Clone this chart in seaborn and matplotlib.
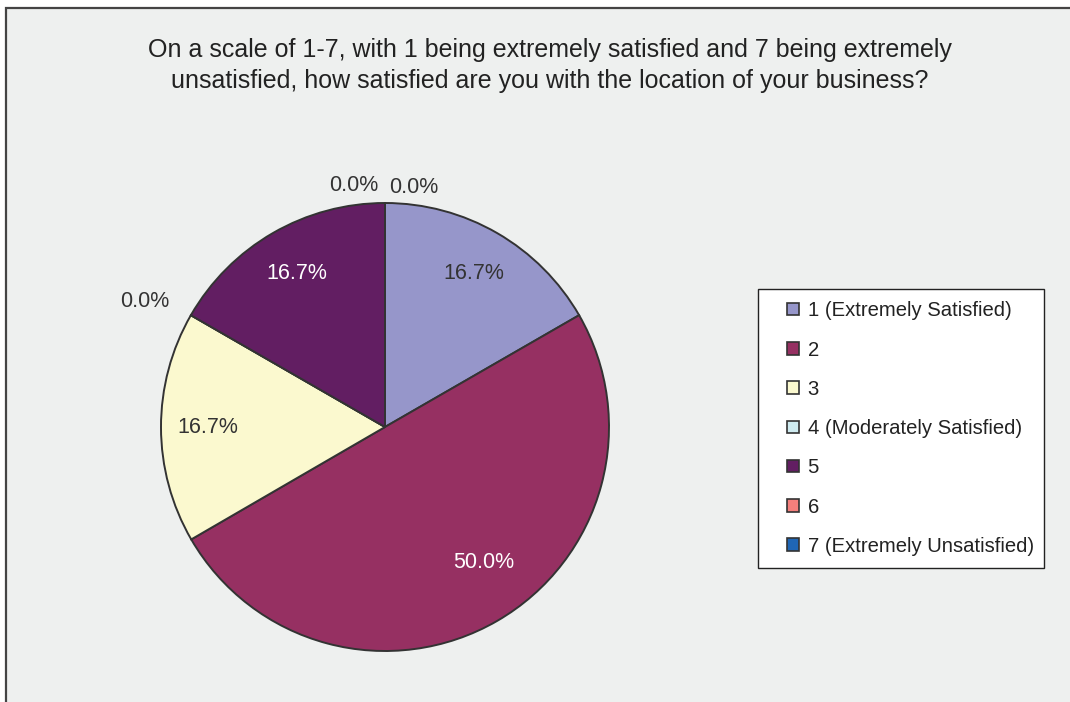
import matplotlib
matplotlib.use("Agg")
import matplotlib.pyplot as plt
import matplotlib.patches as mpatches
import numpy as np
import seaborn as sns

# Survey responses (share of respondents, %)
categories = ["1 (Extremely Satisfied)", "2", "3", "4 (Moderately Satisfied)",
              "5", "6", "7 (Extremely Unsatisfied)"]
shares = [16.7, 50.0, 16.7, 0.0, 16.7, 0.0, 0.0]
slice_colors = ["#9696CA", "#963062", "#FBF9CF", "#CFEBF0", "#621E62", "#F47F7C", "#1F66B5"]
label_colors = ["#333333", "white", "#333333", "#333333", "white", "#333333", "#333333"]

title = ("On a scale of 1-7, with 1 being extremely satisfied and 7 being extremely\n"
         "unsatisfied, how satisfied are you with the location of your business?")

sns.set_theme(style="white")
plt.rcParams["font.family"] = ["Liberation Sans", "DejaVu Sans"]

W, H = 1070, 702
bg = "#EEF0EF"
fig = plt.figure(figsize=(W / 100, H / 100), dpi=100)
fig.patch.set_facecolor("white")

# chart area panel
fig.add_artist(mpatches.Rectangle((6 / W, -0.05), 1.2, 1 - 8 / H + 0.05,
                                  transform=fig.transFigure, facecolor=bg,
                                  edgecolor="#444444", linewidth=1.6, zorder=0))

fig.text(550 / W, 1 - 65.5 / H, title, ha="center", va="center", fontsize=18,
         color="#222222", linespacing=1.35)

# pie axes: centre (385, 427) px, radius 224 px
R = 224
lim = 1.25
side = 2 * lim * R
cx, cy = 385, H - 427
ax = fig.add_axes([(cx - side / 2) / W, (cy - side / 2) / H, side / W, side / H])
ax.set_facecolor("none")

wedges, _ = ax.pie(shares, colors=slice_colors, startangle=90, counterclock=False,
                   wedgeprops=dict(edgecolor="#333333", linewidth=1.4))
ax.set_xlim(-lim, lim)
ax.set_ylim(-lim, lim)
ax.set_aspect("equal")
ax.axis("off")

# percentage labels
fs = 15.5
zero_groups = {}
for i, (w, v) in enumerate(zip(wedges, shares)):
    mid = np.deg2rad((w.theta1 + w.theta2) / 2)
    if v > 0:
        r = 0.79 if v < 40 else 0.75
        a = mid if v < 40 else mid + np.deg2rad(6)
        ax.text(r * np.cos(a), r * np.sin(a), f"{v:.1f}%", ha="center",
                va="center", fontsize=fs, color=label_colors[i])
    else:
        zero_groups.setdefault(round(np.rad2deg(mid) % 360, 1), []).append(v)

for ang, vals in zero_groups.items():
    a = np.deg2rad(ang)
    x, y = 1.1 * np.cos(a), 1.08 * np.sin(a)
    if len(vals) == 1:
        ha = "right" if x < -0.05 else ("left" if x > 0.05 else "center")
        ax.text(x - 0.01, y + 0.02, f"{vals[0]:.1f}%", ha=ha, va="center",
                fontsize=fs, color="#333333")
    else:
        ax.text(x - 0.03, y, f"{vals[0]:.1f}%", ha="right", va="center",
                fontsize=fs, color="#333333")
        ax.text(x + 0.02, y - 0.01, f"{vals[1]:.1f}%", ha="left", va="center",
                fontsize=fs, color="#333333")

# legend box
fig.add_artist(mpatches.Rectangle((758 / W, 1 - 568 / H), (1044 - 758) / W, (568 - 289) / H,
                                  transform=fig.transFigure, facecolor="white",
                                  edgecolor="#222222", linewidth=1.0, zorder=1))
handles = [mpatches.Patch(facecolor=c, edgecolor="#333333", linewidth=1.2) for c in slice_colors]
leg = fig.legend(handles, categories, loc="upper left",
                 bbox_to_anchor=(771 / W, 1 - 285 / H), frameon=False,
                 fontsize=14.6, handlelength=0.58, handleheight=0.58,
                 handletextpad=0.42, labelspacing=1.0, borderpad=0.3)
for t in leg.get_texts():
    t.set_color("#222222")
leg.set_zorder(2)

fig.savefig("out.png", dpi=100, facecolor=fig.get_facecolor())
